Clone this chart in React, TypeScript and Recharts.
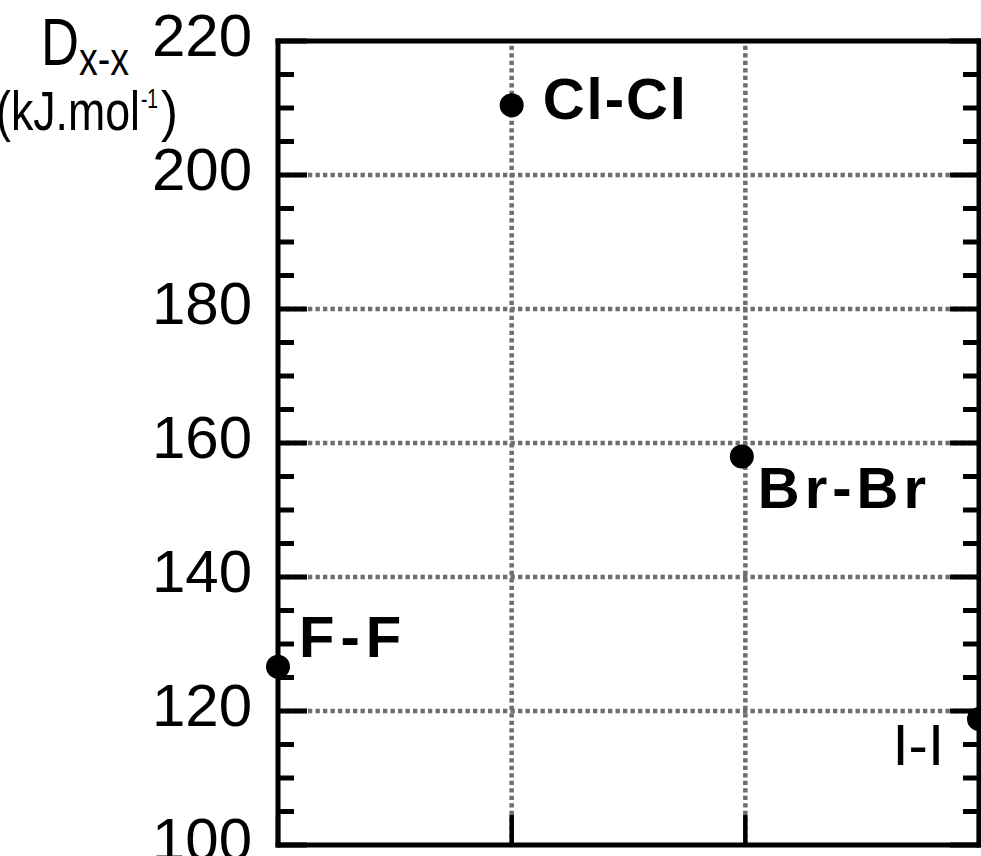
import { ScatterChart, Scatter, XAxis, YAxis, ReferenceLine } from 'recharts';

// halogen bond dissociation energies
const bonds = ['F-F', 'Cl-Cl', 'Br-Br', 'I-I'];
const bondPosition = [0, 1, 1.985, 3];
const bondEnergy = [126.6, 210.4, 158.0, 118.8];

const yTicks = [100, 105, 110, 115, 120, 125, 130, 135, 140, 145, 150, 155, 160, 165, 170, 175, 180, 185, 190, 195, 200, 205, 210, 215, 220];
const yLabels = [100, 120, 140, 160, 180, 200, 220];
const xTicks = [0, 1, 2, 3];
const gridY = [120, 140, 160, 180, 200];
const gridX = [1, 2];

const FONT = "'Liberation Sans', Arial, sans-serif";
const NARROW = "'Liberation Sans Narrow', 'Liberation Sans', Arial, sans-serif";

// where each bond label sits relative to its dot
const labelPlace: Record<string, { dx: number; dy: number; anchor: 'start' | 'end'; weight: string; spacing: number }> = {
  'F-F': { dx: 21, dy: -10, anchor: 'start', weight: 'bold', spacing: 6 },
  'Cl-Cl': { dx: 31, dy: 14, anchor: 'start', weight: 'bold', spacing: 2 },
  'Br-Br': { dx: 16, dy: 52, anchor: 'start', weight: 'bold', spacing: 5 },
  'I-I': { dx: -35, dy: 46, anchor: 'end', weight: 'normal', spacing: 0 },
};

const data = bonds.map((name, i) => ({ name, x: bondPosition[i], y: bondEnergy[i] }));

const axisStyle = { stroke: '#000', strokeWidth: 5, strokeLinecap: 'square' as const };

function YTick({ x, y, payload, side }: any) {
  const major = yLabels.includes(payload.value);
  const len = major ? 29 : 16;
  const dir = side === 'left' ? 1 : -1;
  return (
    <g>
      <line x1={x} x2={x + dir * len} y1={y} y2={y} stroke="#000" strokeWidth={5} />
      {major && side === 'left' && (
        <text x={x - 26} y={y + 15} textAnchor="end" fontSize={60} fontFamily={FONT} fill="#000">
          {payload.value}
        </text>
      )}
    </g>
  );
}

function XTick({ x, y, side }: any) {
  const dir = side === 'top' ? 1 : -1;
  return <line x1={x} x2={x} y1={y} y2={y + dir * 30} stroke="#000" strokeWidth={4.5} />;
}

function BondDot({ cx, cy, payload }: any) {
  const p = labelPlace[payload.name];
  return (
    <g>
      <circle cx={cx} cy={cy} r={12} fill="#000" />
      <text
        x={cx + p.dx}
        y={cy + p.dy}
        textAnchor={p.anchor}
        fontSize={58}
        fontWeight={p.weight}
        letterSpacing={p.spacing}
        fontFamily={FONT}
        fill="#000"
      >
        {payload.name}
      </text>
    </g>
  );
}

function AxisTitle() {
  return (
    <g fill="#000" fontFamily={NARROW}>
      <text x={41} y={65} fontSize={66} textLength={38} lengthAdjust="spacingAndGlyphs">D</text>
      <text x={79} y={75} fontSize={46} textLength={50} lengthAdjust="spacingAndGlyphs">x-x</text>
      <text x={-4} y={130} fontSize={55} textLength={144} lengthAdjust="spacingAndGlyphs">(kJ.mol</text>
      <text x={141} y={108} fontSize={28} textLength={17} lengthAdjust="spacingAndGlyphs">-1</text>
      <text x={161} y={130} fontSize={55} textLength={17} lengthAdjust="spacingAndGlyphs">)</text>
    </g>
  );
}

export default function App() {
  return (
    <div style={{ position: 'absolute', left: 0, top: 0, background: '#fff' }}>
      <ScatterChart width={981} height={856} margin={{ top: 11, right: 0, bottom: 0, left: 0 }}>
        <XAxis
          xAxisId="bottom"
          type="number"
          dataKey="x"
          domain={[0, 3]}
          ticks={xTicks}
          interval={0}
          orientation="bottom"
          height={11}
          tickSize={0}
          tickMargin={0}
          axisLine={axisStyle}
          tickLine={false}
          tick={(p: any) => <XTick {...p} side="bottom" />}
        />
        <XAxis
          xAxisId="top"
          type="number"
          domain={[0, 3]}
          ticks={xTicks}
          interval={0}
          orientation="top"
          height={30}
          tickSize={0}
          tickMargin={0}
          axisLine={axisStyle}
          tickLine={false}
          tick={(p: any) => <XTick {...p} side="top" />}
          allowDataOverflow
        />
        <YAxis
          yAxisId="left"
          type="number"
          dataKey="y"
          domain={[100, 220]}
          ticks={yTicks}
          interval={0}
          width={278}
          tickSize={0}
          tickMargin={0}
          axisLine={axisStyle}
          tickLine={false}
          tick={(p: any) => <YTick {...p} side="left" />}
          label={{ content: () => <AxisTitle /> }}
        />
        <YAxis
          yAxisId="right"
          type="number"
          orientation="right"
          domain={[100, 220]}
          ticks={yTicks}
          interval={0}
          width={2}
          tickSize={0}
          tickMargin={0}
          axisLine={axisStyle}
          tickLine={false}
          tick={(p: any) => <YTick {...p} side="right" />}
          allowDataOverflow
        />
        {gridY.map((v) => (
          <ReferenceLine key={`gy${v}`} y={v} xAxisId="bottom" yAxisId="left" stroke="#6e6e6e" strokeWidth={4.5} strokeDasharray="4.3 3.2" />
        ))}
        {gridX.map((v) => (
          <ReferenceLine key={`gx${v}`} x={v} xAxisId="bottom" yAxisId="left" stroke="#6e6e6e" strokeWidth={4.5} strokeDasharray="4.3 3.2" />
        ))}
        <Scatter
          data={data}
          xAxisId="bottom"
          yAxisId="left"
          fill="#000"
          shape={(p: any) => <BondDot {...p} />}
          isAnimationActive={false}
        />
      </ScatterChart>
    </div>
  );
}
